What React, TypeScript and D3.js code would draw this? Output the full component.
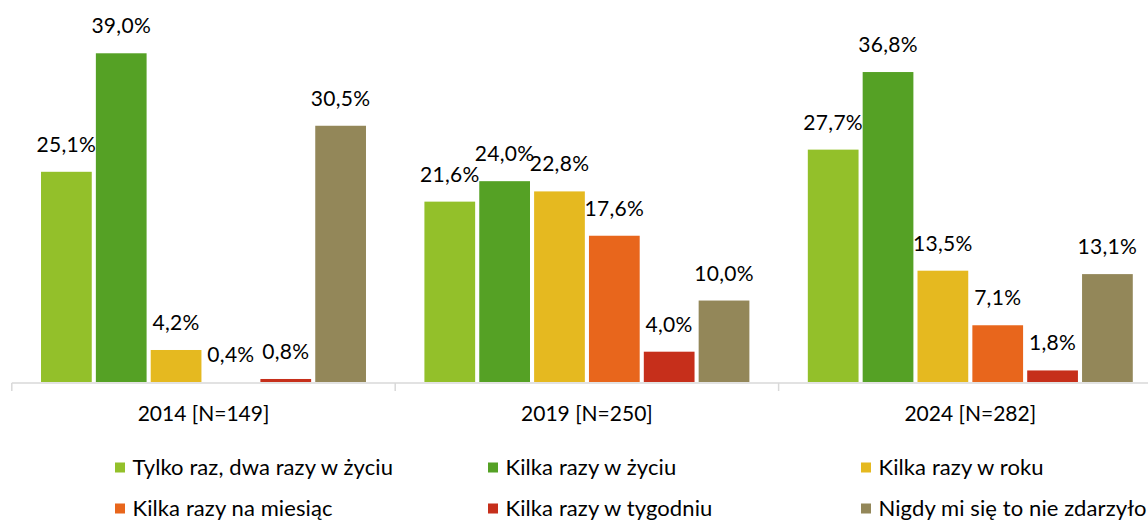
import React from "react";
import * as d3 from "d3";

const groups = ["2014 [N=149]", "2019 [N=250]", "2024 [N=282]"];
const seriesNames = [
  "Tylko raz, dwa razy w życiu",
  "Kilka razy w życiu",
  "Kilka razy w roku",
  "Kilka razy na miesiąc",
  "Kilka razy w tygodniu",
  "Nigdy mi się to nie zdarzyło",
];
const seriesColors = ["#93C02A", "#55A125", "#E5B920", "#E8661C", "#C62F1B", "#938759"];

const values2014 = [25.1, 39.0, 4.2, 0.4, 0.8, 30.5];
const values2019 = [21.6, 24.0, 22.8, 17.6, 4.0, 10.0];
const values2024 = [27.7, 36.8, 13.5, 7.1, 1.8, 13.1];
const valuesByGroup = [values2014, values2019, values2024];

const W = 1148;
const H = 520;
const FONT = "Lato, 'Open Sans', sans-serif";

export default function App() {
  const axisY = 382;
  const x0 = d3.scaleBand<string>().domain(groups).range([11.8, 11.8 + 383.4 * 3]).paddingInner(0).paddingOuter(0);
  const bw = x0.bandwidth();
  const x1 = d3
    .scaleBand<number>()
    .domain(d3.range(seriesNames.length))
    .range([bw * 0.0762, bw * 0.9238])
    .paddingInner(0.075)
    .paddingOuter(0);
  const y = d3.scaleLinear().domain([0, 40]).range([385.8, 385.8 - 40 * 8.526]);
  const fmt = (v: number) => v.toFixed(1).replace(".", ",") + "%";

  const legendCols = d3.scaleOrdinal<number, number>().domain([0, 1, 2]).range([115, 488, 861]);
  const legendRows = [467.5, 508.5];

  return (
    <svg
      width={W}
      height={H}
      style={{ position: "absolute", left: 0, top: 0, background: "#fff" }}
      fontFamily={FONT}
    >
      {groups.map((g, gi) => (
        <g key={g} transform={`translate(${x0(g)},0)`}>
          {valuesByGroup[gi].map((v, si) => {
            const top = Math.min(y(v), axisY);
            const bx = x1(si) as number;
            return (
              <g key={si}>
                <rect
                  x={bx}
                  y={top}
                  width={x1.bandwidth()}
                  height={Math.max(0, axisY - top)}
                  fill={seriesColors[si]}
                />
                <text
                  x={bx + x1.bandwidth() / 2}
                  y={y(v) - 20}
                  textAnchor="middle"
                  fontSize={21}
                  letterSpacing={0.3}
                  fill="#000"
                >
                  {fmt(v)}
                </text>
              </g>
            );
          })}
          <text x={bw / 2} y={421} textAnchor="middle" fontSize={21} fill="#000">
            {g}
          </text>
        </g>
      ))}
      <line x1={11.8} x2={W} y1={axisY + 1} y2={axisY + 1} stroke="#d9d9d9" strokeWidth={1.5} />
      {[0, 1, 2, 3].map((i) => {
        const tx = 11.8 + i * bw;
        return <line key={i} x1={tx} x2={tx} y1={axisY + 1} y2={axisY + 9} stroke="#d9d9d9" strokeWidth={1.5} />;
      })}
      {seriesNames.map((name, i) => {
        const col = i % 3;
        const row = Math.floor(i / 3);
        const lx = legendCols(col);
        const ly = legendRows[row];
        return (
          <g key={name} transform={`translate(${lx},${ly})`}>
            <rect x={0} y={-5} width={10} height={10} fill={seriesColors[i]} />
            <text x={17.5} y={7} fontSize={22} letterSpacing={0.1} fill="#000">
              {name}
            </text>
          </g>
        );
      })}
    </svg>
  );
}
